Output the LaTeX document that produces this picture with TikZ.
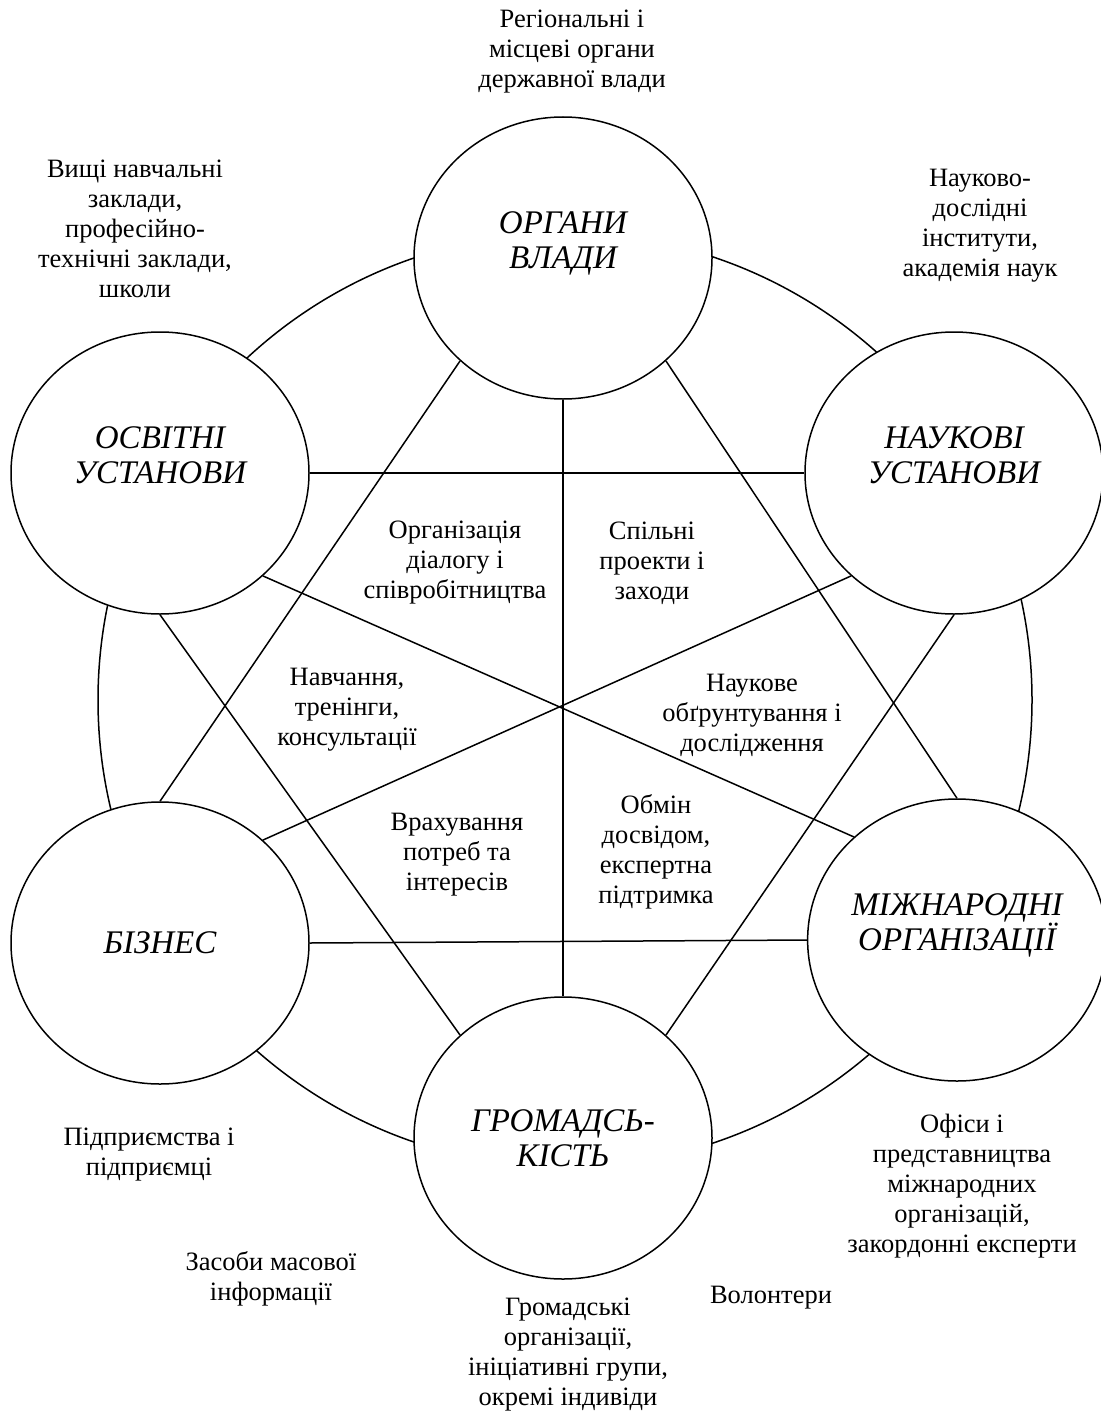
\documentclass[tikz,border=0pt]{standalone}
\usepackage{fontspec}
\setmainfont{Liberation Serif}
\usetikzlibrary{shapes.geometric}
\begin{document}
\begin{tikzpicture}[x=1pt,y=-1pt,
  actor/.style={ellipse, draw, fill=white, line width=1.5pt, minimum width=298pt, minimum height=282pt, inner sep=0pt, align=center, font=\fontsize{33}{35}\selectfont\itshape},
  lbl/.style={align=center, inner sep=0pt, font=\fontsize{26.5}{30}\selectfont},
  link/.style={line width=1.5pt}]
\useasboundingbox (0,0) rectangle (1100,1418);
% outer ring
\draw[link] (565,700) circle[radius=467pt];
% actors
\node[actor] (organy) at (563,258) {ОРГАНИ\\ВЛАДИ\\\mbox{}};
\node[actor] (osvita) at (160,473) {ОСВІТНІ\\УСТАНОВИ\\\mbox{}};
\node[actor] (nauka) at (954,473) {НАУКОВІ\\УСТАНОВИ\\\mbox{}};
\node[actor] (biznes) at (160,943) {БІЗНЕС};
\node[actor] (mizhn) at (957,940) {МІЖНАРОДНІ\\ОРГАНІЗАЦІЇ\\\mbox{}};
\node[actor] (hromada) at (563,1138) {ГРОМАДСЬ-\\КІСТЬ};
% links
\draw[link] (organy.south) -- (hromada.north);
\draw[link] (osvita.east) -- (nauka.west);
\draw[link] (biznes.east) -- (mizhn.west);
\draw[link] (organy.225) -- (biznes.north);
\draw[link] (organy.-45) -- (mizhn.north);
\draw[link] (osvita.-45) -- (mizhn.135);
\draw[link] (nauka.225) -- (biznes.45);
\draw[link] (osvita.south) -- (hromada.135);
\draw[link] (nauka.south) -- (hromada.45);
% inner labels
\node[lbl] (l1) at (455,563) {Організація\\діалогу і\\співробітництва};
\node[lbl] (l2) at (652,563) {Спільні\\проекти і\\заходи};
\node[lbl] (l3) at (347,710) {Навчання,\\тренінги,\\консультації};
\node[lbl] (l4) at (752,715) {Наукове\\обґрунтування і\\дослідження};
\node[lbl] (l5) at (457,855) {Врахування\\потреб та\\інтересів};
\node[lbl] (l6) at (656,852) {Обмін\\досвідом,\\експертна\\підтримка};
% outer labels
\node[lbl] (o1) at (572,52) {Регіональні і\\місцеві органи\\державної влади};
\node[lbl] (o2) at (135,229) {Вищі навчальні\\заклади,\\професійно-\\технічні заклади,\\школи};
\node[lbl] (o3) at (980,226) {Науково-\\дослідні\\інститути,\\академія наук};
\node[lbl] (o4) at (962,1186) {Офіси і\\представництва\\міжнародних\\організацій,\\закордонні експерти};
\node[lbl] (o5) at (149,1155) {Підприємства і\\підприємці};
\node[lbl] (o6) at (271,1279) {Засоби масової\\інформації};
\node[lbl] (o7) at (568,1355) {Громадські\\організації,\\ініціативні групи,\\окремі індивіди};
\node[lbl] (o8) at (771,1298) {Волонтери};
\end{tikzpicture}
\end{document}
